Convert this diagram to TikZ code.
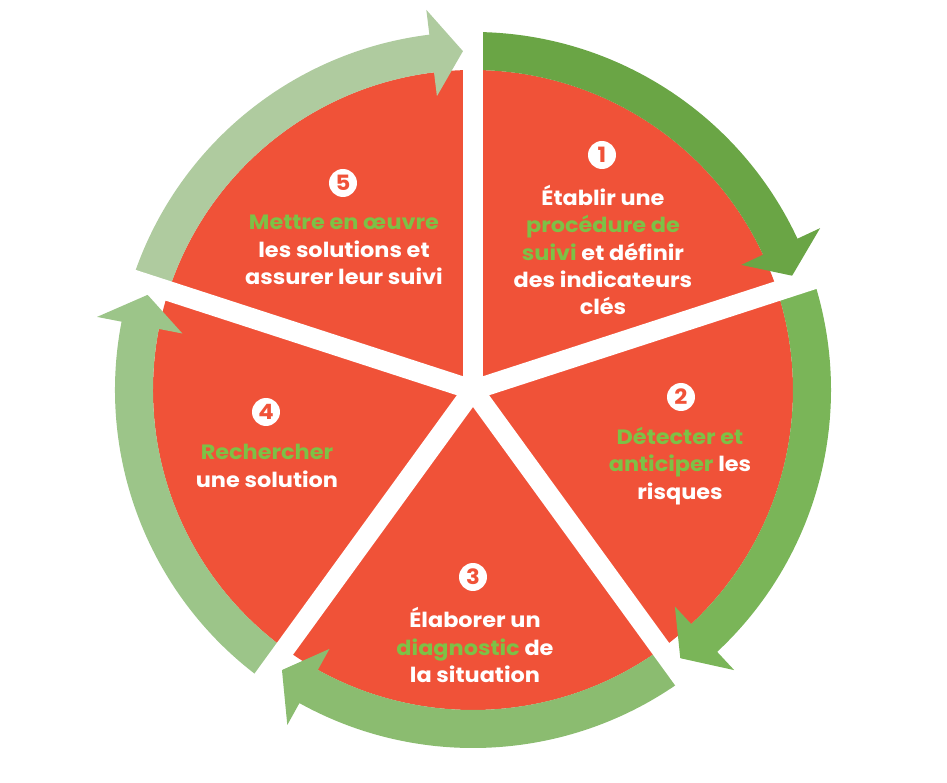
\documentclass[tikz,border=0pt]{standalone}
\usepackage{fontspec}
\setmainfont{Poppins}[FakeStretch=1.08]
\usetikzlibrary{positioning}
\definecolor{sectorred}{RGB}{240,82,56}
\definecolor{keygreen}{RGB}{125,193,70}
\definecolor{arrowone}{RGB}{106,165,69}
\definecolor{arrowtwo}{RGB}{122,181,88}
\definecolor{arrowthree}{RGB}{139,188,112}
\definecolor{arrowfour}{RGB}{156,197,137}
\definecolor{arrowfive}{RGB}{175,203,159}

\tikzset{
  phase/.style={align=center, text=white, inner sep=0pt,
    font=\bfseries\fontsize{11.8}{15.6}\selectfont},
  badge/.style={circle, fill=white, text=sectorred, minimum size=0.56cm,
    inner sep=0pt, font=\bfseries\fontsize{12}{12}\selectfont}
}

\begin{document}
\begin{tikzpicture}[scale=0.02]
  \useasboundingbox (-473,-393) rectangle (474,390);

  % Red disc, cut into five sectors later
  \fill[sectorred] (0,0) circle[radius=320];

  % Cycle arrows round the disc
  \foreach \col/\from in {arrowone/90, arrowtwo/18, arrowthree/-54,
                          arrowfour/-126, arrowfive/-198}{
    \pgfmathsetmacro{\base}{\from-65}
    \pgfmathsetmacro{\tip}{\from-70.3}
    \fill[\col] (\from:358) arc[start angle=\from, end angle=\base, radius=358]
      -- (\base:383) -- (\tip:339) -- (\base:296) -- (\base:320)
      arc[start angle=\base, end angle=\from, radius=320] -- cycle;
  }

  % White gaps between the sectors
  \foreach \gap in {90,18,-54,-126,162}
    \draw[white, line width=0.4cm] (0,0) -- (\gap:420);
  \fill[white] (0,0) circle[radius=12];

  % Sector 1
  \node[badge] (num1) at (129,235) {1};
  \node[phase] (txt1) at (130,140)
    {Établir une\\ \textcolor{keygreen}{procédure de}\\
     \textcolor{keygreen}{suivi} et définir\\ des indicateurs\\ clés};

  % Sector 2
  \node[badge] (num2) at (208,-7) {2};
  \node[phase] (txt2) at (207,-76)
    {\textcolor{keygreen}{Détecter et}\\ \textcolor{keygreen}{anticiper} les\\ risques};

  % Sector 3
  \node[badge] (num3) at (0,-187) {3};
  \node[phase] (txt3) at (2,-255)
    {Élaborer un\\ \textcolor{keygreen}{diagnostic} de\\ la situation};

  % Sector 4
  \node[badge] (num4) at (-207,-22) {4};
  \node[phase] (txt4) at (-206,-76)
    {\textcolor{keygreen}{Rechercher}\\ une solution};

  % Sector 5
  \node[badge] (num5) at (-130,207) {5};
  \node[phase] (txt5) at (-129,140)
    {\textcolor{keygreen}{Mettre en œuvre}\\ les solutions et\\ assurer leur suivi};
\end{tikzpicture}
\end{document}
